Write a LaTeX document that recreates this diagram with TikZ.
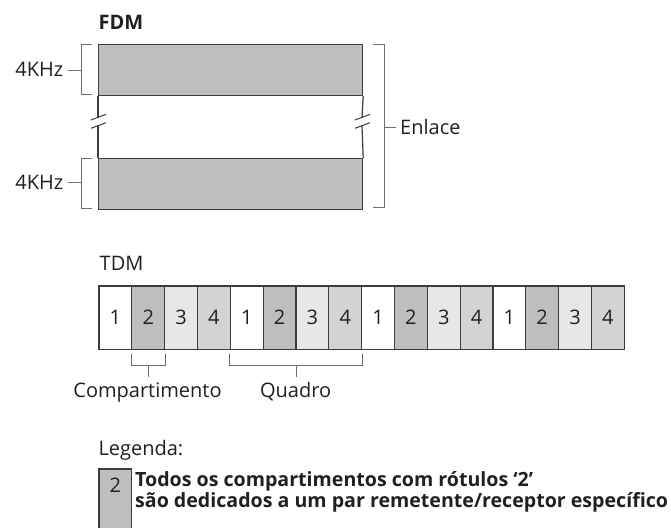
\documentclass[tikz,border=0pt]{standalone}
\usepackage{fontspec}
\setmainfont{Open Sans}
\usetikzlibrary{calc}
\definecolor{txt}{HTML}{231F20}
\definecolor{cell1}{HTML}{FFFFFF}
\definecolor{cell2}{HTML}{BCBEC0}
\definecolor{cell3}{HTML}{E6E7E8}
\definecolor{cell4}{HTML}{D1D3D4}
\definecolor{ln}{HTML}{3C3C3E}
\definecolor{br}{HTML}{6D6E71}
\begin{document}
\begin{tikzpicture}[x=1pt,y=-1pt,
  every node/.style={text=txt,font=\fontsize{20}{24}\selectfont,inner sep=0pt},
  band/.style={draw=ln,line width=1.2pt,fill=cell2,minimum width=264pt,minimum height=50.5pt,anchor=north west},
  cellbox/.style={draw=ln,line width=1.2pt,minimum width=32.83pt,minimum height=63.3pt},
  side/.style={draw=ln,line width=1.2pt},
  brk/.style={draw=br,line width=1pt},
  boldtxt/.style={font=\bfseries\fontsize{19.6}{23}\selectfont}]
\useasboundingbox (0,0) rectangle (671,527);
\clip (0,0) rectangle (671,527);
% ---------- FDM ----------
\node[anchor=base west,font=\bfseries\fontsize{20}{24}\selectfont] (fdm) at (98.5,29.3) {FDM};
\node[band] (b1) at (98,44.3) {};
\node[band] (b2) at (98,158) {};
% side lines with break marks
\draw[side] (b1.south west) -- (98,117.3);
\draw[side] (98,126) -- (b2.north west);
\draw[side] (b1.south east) -- (362,117.3);
\draw[side] (362,126) -- (b2.north east);
\draw[brk,draw=ln] (91,120) -- (106,114.3);
\draw[brk,draw=ln] (91,128.3) -- (106,122.7);
\draw[brk,draw=ln] (355,120) -- (370,114.3);
\draw[brk,draw=ln] (355,128.3) -- (370,122.7);
% left brackets
\draw[brk] (91.7,44.3) -| (81,94.7) -- (91.7,94.7);
\draw[brk] (91.7,158.3) -| (81,208.3) -- (91.7,208.3);
\node[anchor=base east] (k1) at (63.5,76.8) {4KHz};
\node[anchor=base east] (k2) at (63.5,189.6) {4KHz};
\draw[brk] (81,70) -- (68.3,70);
\draw[brk] (81,182.8) -- (68.3,182.8);
% right bracket
\draw[brk] (372.7,44.3) -| (384.3,207.5) -- (372.7,207.5);
\node[anchor=base west] (enl) at (400,134.6) {Enlace};
\draw[brk] (384.3,127.5) -- (395.7,127.5);
% ---------- TDM ----------
\node[anchor=base west] (tdm) at (99.5,270) {TDM};
\foreach \i in {1,...,16}{
  \pgfmathtruncatemacro\n{mod(\i-1,4)+1}
  \node[cellbox,fill=cell\n] (c\i) at ({99+(\i-0.5)*32.83},317.7) {\raisebox{-1pt}{\n}};
}
% compartimento bracket
\draw[brk] ($(c2.south west)+(0,4)$) -- ($(c2.south west)+(0,15.7)$) -- ($(c2.south east)+(0,15.7)$) -- ($(c2.south east)+(0,4)$);
\node[anchor=base] (comp) at (147.5,397.3) {Compartimento};
\draw[brk] ($(c2.south)+(0,15.7)$) -- ($(c2.south)+(0,27.5)$);
% quadro bracket
\draw[brk] ($(c5.south west)+(0,4)$) -- ($(c5.south west)+(0,15.7)$) -- ($(c8.south east)+(0,15.7)$) -- ($(c8.south east)+(0,4)$);
\node[anchor=base] (quad) at (295.6,397.3) {Quadro};
\draw[brk] ($(c6.south east)+(0,15.7)$) -- ($(c6.south east)+(0,27.5)$);
% ---------- Legenda ----------
\node[anchor=base west] (leg) at (98.3,455) {Legenda:};
\node[draw=ln,line width=1.2pt,fill=cell2,minimum width=32.7pt,minimum height=80pt,anchor=north west] (lbox) at (98.3,468.3) {};
\node (l2) at ($(lbox.north)+(0,16.5)$) {2};
\node[anchor=base west,boldtxt] (lt1) at (135,486.7) {Todos os compartimentos com rótulos ‘2’};
\node[anchor=base west,boldtxt] (lt2) at (135,507.5) {são dedicados a um par remetente/receptor específico};
\end{tikzpicture}
\end{document}
